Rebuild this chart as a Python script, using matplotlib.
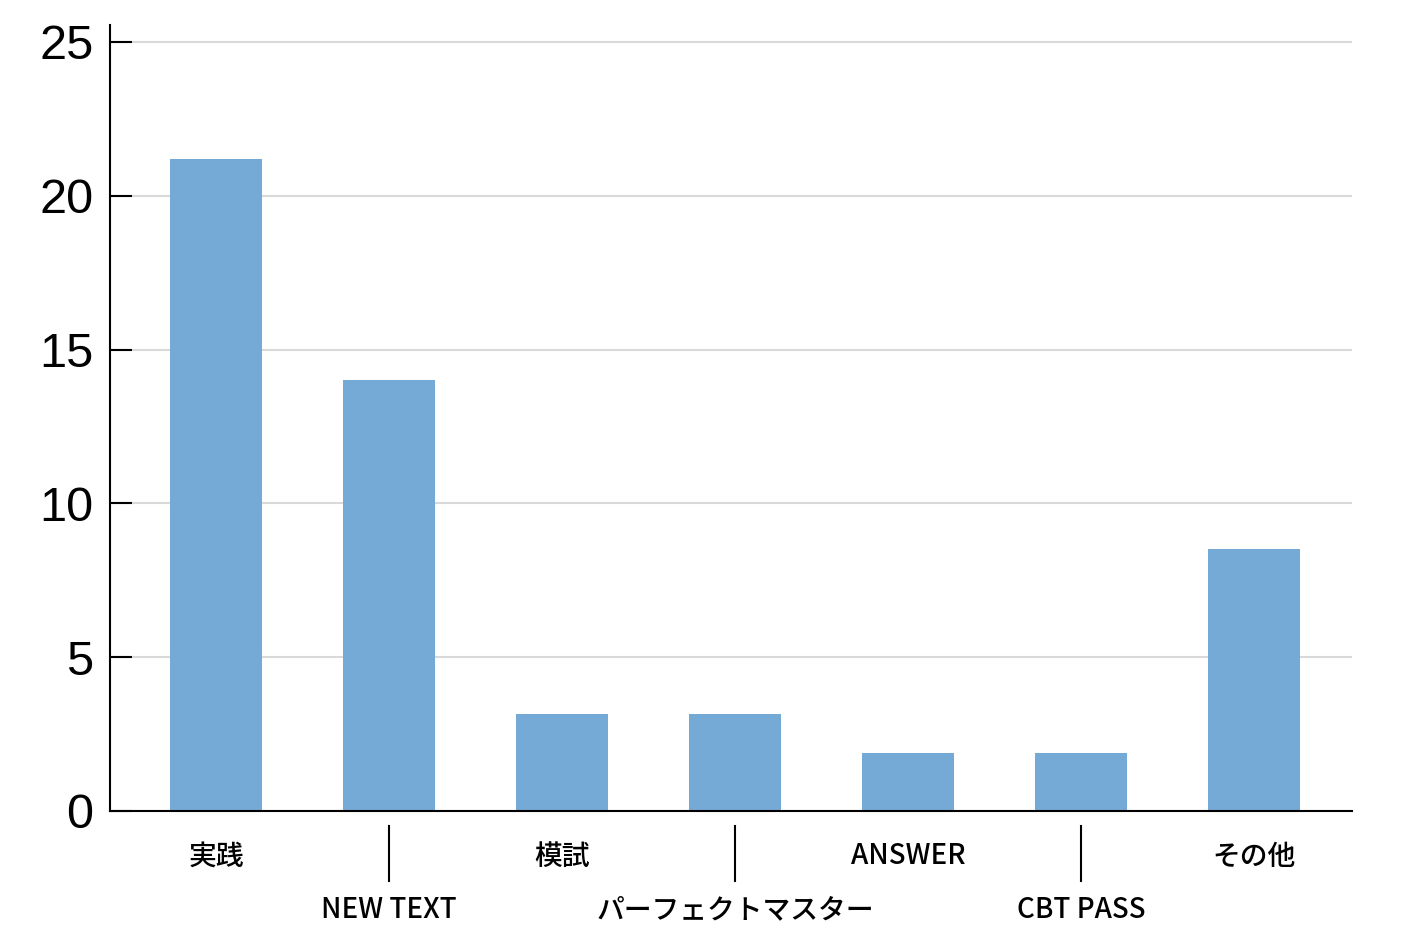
import matplotlib
matplotlib.use('Agg')
import matplotlib.pyplot as plt
from matplotlib.transforms import blended_transform_factory

categories = ['実践', 'NEW TEXT', '模試', 'パーフェクトマスター', 'ANSWER', 'CBT PASS', 'その他']
values = [21.2, 14.0, 3.15, 3.15, 1.9, 1.9, 8.5]
yticks = [0, 5, 10, 15, 20, 25]

bar_color = '#75aad7'
grid_color = '#d9d9d9'

fig = plt.figure(figsize=(14.12, 9.43), dpi=100)
ax = fig.add_axes([0.0779, 0.14, 0.8796, 0.8335])

x = list(range(len(categories)))
ax.bar(x, values, width=0.53, color=bar_color, zorder=2)

ax.set_xlim(-0.613, 6.566)
ax.set_ylim(0, 25.55)
ax.set_yticks(yticks)
ax.set_yticklabels([str(t) for t in yticks], family=['Liberation Sans', 'DejaVu Sans'], fontsize=35)
ax.tick_params(axis='y', direction='in', length=16, width=1.5, pad=12, color='black')
ax.set_xticks([])
ax.yaxis.grid(True, color=grid_color, linewidth=1.5, zorder=0)
ax.set_axisbelow(True)

for side in ['top', 'right']:
    ax.spines[side].set_visible(False)
for side in ['left', 'bottom']:
    ax.spines[side].set_linewidth(1.5)
    ax.spines[side].set_zorder(3)

# staggered category labels
trans = blended_transform_factory(ax.transData, ax.transAxes)
axh = 786.0
for i, lab in enumerate(categories):
    if i % 2 == 0:
        ax.text(i, -45 / axh, lab, transform=trans, ha='center', va='center',
                fontsize=20, fontweight='medium', family=['Noto Sans CJK JP', 'DejaVu Sans'])
    else:
        ax.text(i, -99 / axh, lab, transform=trans, ha='center', va='center',
                fontsize=20, fontweight='medium', family=['Noto Sans CJK JP', 'DejaVu Sans'])
        ax.plot([i, i], [-15 / axh, -70 / axh], transform=trans, color='black',
                linewidth=1.5, clip_on=False)

fig.savefig('out.png', dpi=100)
